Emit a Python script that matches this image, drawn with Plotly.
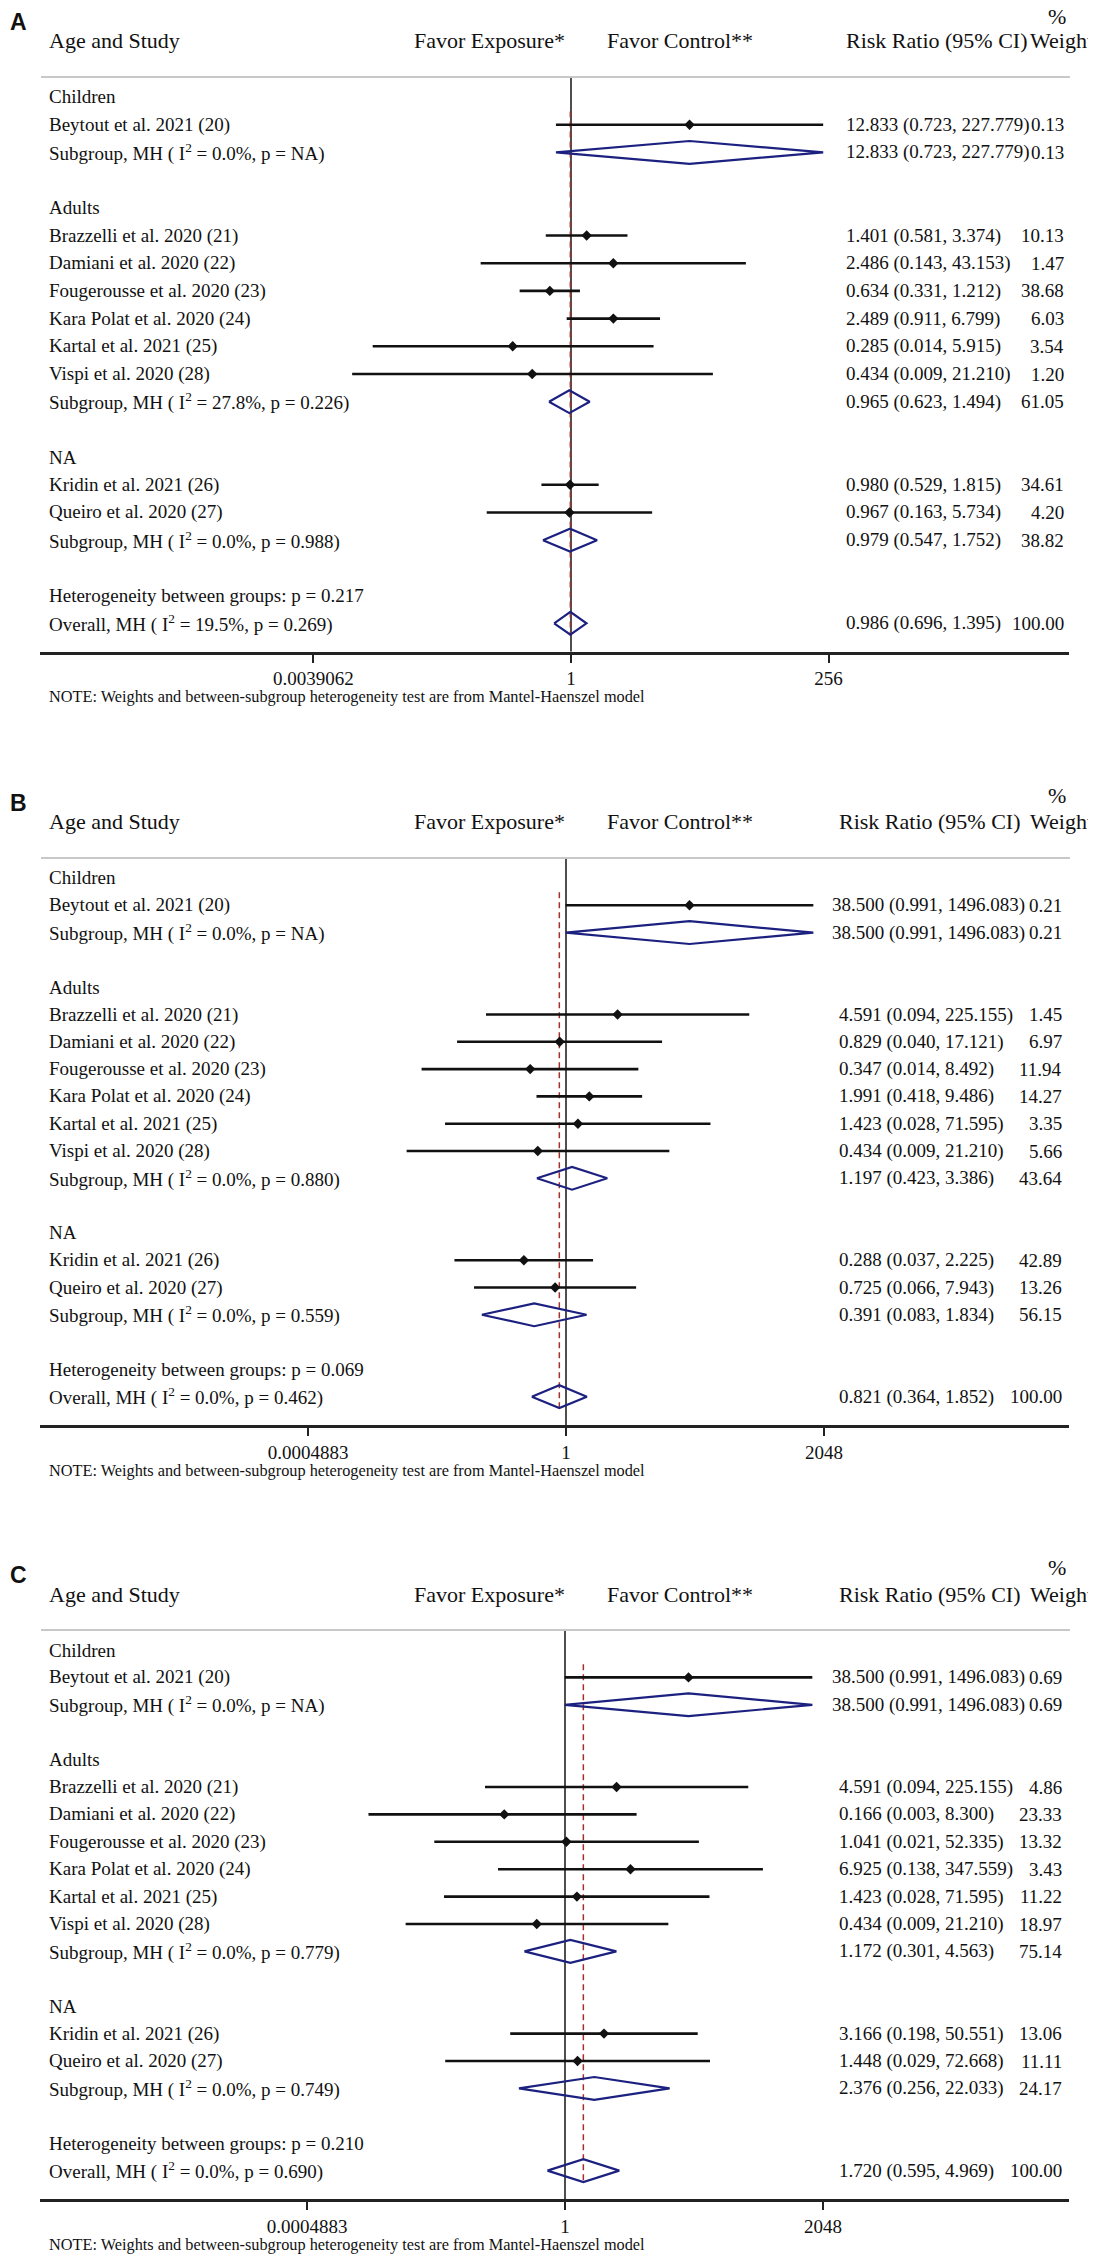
import math
import plotly.graph_objects as go

# the page adds an 8px body margin, so every reference pixel position is
# moved back by that margin and the figure is made 8px smaller
OFF = 8
W, H = 1096 - OFF, 2254 - OFF
SERIF = "Liberation Serif"

# ---- data -------------------------------------------------------------
children_studies = ["Beytout et al. 2021 (20)"]
adult_studies = [
    "Brazzelli et al. 2020 (21)",
    "Damiani et al. 2020 (22)",
    "Fougerousse et al. 2020 (23)",
    "Kara Polat et al. 2020 (24)",
    "Kartal et al. 2021 (25)",
    "Vispi et al. 2020 (28)",
]
na_studies = ["Kridin et al. 2021 (26)", "Queiro et al. 2020 (27)"]

# order: Beytout, subgroup children, 6 adult studies, subgroup adults,
#        Kridin, Queiro, subgroup NA, overall
a_rr = [12.833, 12.833, 1.401, 2.486, 0.634, 2.489, 0.285, 0.434, 0.965, 0.980, 0.967, 0.979, 0.986]
a_lo = [0.723, 0.723, 0.581, 0.143, 0.331, 0.911, 0.014, 0.009, 0.623, 0.529, 0.163, 0.547, 0.696]
a_hi = [227.779, 227.779, 3.374, 43.153, 1.212, 6.799, 5.915, 21.210, 1.494, 1.815, 5.734, 1.752, 1.395]
a_wt = [0.13, 0.13, 10.13, 1.47, 38.68, 6.03, 3.54, 1.20, 61.05, 34.61, 4.20, 38.82, 100.00]
a_i2 = ["0.0%", "27.8%", "0.0%", "19.5%"]
a_p = ["NA", "0.226", "0.988", "0.269"]
a_het = "0.217"
a_tickvals = [0.0039062, 1, 256]
a_ticktext = ["0.0039062", "1", "256"]

b_rr = [38.500, 38.500, 4.591, 0.829, 0.347, 1.991, 1.423, 0.434, 1.197, 0.288, 0.725, 0.391, 0.821]
b_lo = [0.991, 0.991, 0.094, 0.040, 0.014, 0.418, 0.028, 0.009, 0.423, 0.037, 0.066, 0.083, 0.364]
b_hi = [1496.083, 1496.083, 225.155, 17.121, 8.492, 9.486, 71.595, 21.210, 3.386, 2.225, 7.943, 1.834, 1.852]
b_wt = [0.21, 0.21, 1.45, 6.97, 11.94, 14.27, 3.35, 5.66, 43.64, 42.89, 13.26, 56.15, 100.00]
b_i2 = ["0.0%", "0.0%", "0.0%", "0.0%"]
b_p = ["NA", "0.880", "0.559", "0.462"]
b_het = "0.069"
b_tickvals = [0.0004883, 1, 2048]
b_ticktext = ["0.0004883", "1", "2048"]

c_rr = [38.500, 38.500, 4.591, 0.166, 1.041, 6.925, 1.423, 0.434, 1.172, 3.166, 1.448, 2.376, 1.720]
c_lo = [0.991, 0.991, 0.094, 0.003, 0.021, 0.138, 0.028, 0.009, 0.301, 0.198, 0.029, 0.256, 0.595]
c_hi = [1496.083, 1496.083, 225.155, 8.300, 52.335, 347.559, 71.595, 21.210, 4.563, 50.551, 72.668, 22.033, 4.969]
c_wt = [0.69, 0.69, 4.86, 23.33, 13.32, 3.43, 11.22, 18.97, 75.14, 13.06, 11.11, 24.17, 100.00]
c_i2 = ["0.0%", "0.0%", "0.0%", "0.0%"]
c_p = ["NA", "0.779", "0.749", "0.690"]
c_het = "0.210"
c_tickvals = [0.0004883, 1, 2048]
c_ticktext = ["0.0004883", "1", "2048"]

# ---- layout of each panel (page pixels) ---------------------------------
panels = [
    dict(tag="A", rr=a_rr, lo=a_lo, hi=a_hi, wt=a_wt, i2=a_i2, p=a_p, het=a_het,
         tv=a_tickvals, tt=a_ticktext, y0=97, sp=27.7, one=571, k=32.2, rr_x=844, wt_x=1066),
    dict(tag="B", rr=b_rr, lo=b_lo, hi=b_hi, wt=b_wt, i2=b_i2, p=b_p, het=b_het,
         tv=b_tickvals, tt=b_ticktext, y0=878, sp=27.3, one=566, k=23.45, rr_x=837, wt_x=1064),
    dict(tag="C", rr=c_rr, lo=c_lo, hi=c_hi, wt=c_wt, i2=c_i2, p=c_p, het=c_het,
         tv=c_tickvals, tt=c_ticktext, y0=1650, sp=27.4, one=565, k=23.45, rr_x=837, wt_x=1064),
]

AX_L, AX_R = 40, 1069
NAVY = "#1c2180"
DARKRED = "#a3302c"


def px_x(px):
    return (px - OFF) / W


def px_y(px):
    return 1 - (px - OFF) / H


fig = go.Figure()
annotations = []
shapes = []


def note(x, y, text, size=19, anchor="left", family=SERIF, box_h=None):
    ann = dict(
        x=px_x(x), y=px_y(y), xref="paper", yref="paper", text=text,
        showarrow=False, xanchor=anchor, yanchor="middle",
        font=dict(family=family, size=size, color="#111"),
    )
    if box_h:
        ann["height"] = box_h
    annotations.append(ann)


for n, pnl in enumerate(panels):
    sfx = "" if n == 0 else str(n + 1)
    xa, ya = "x" + sfx, "y" + sfx
    y0, sp = pnl["y0"], pnl["sp"]
    axis_px = y0 + 19 * sp + 28.5
    top_px = max(y0 - 95, OFF)

    # rows: 0 Children, 1 study, 2 subgroup, 4 Adults, 5-10 studies, 11 subgroup,
    #       13 NA, 14-15 studies, 16 subgroup, 18 heterogeneity, 19 overall
    stat_rows = [1, 2, 5, 6, 7, 8, 9, 10, 11, 14, 15, 16, 19]
    pooled = {2, 11, 16, 19}
    subgroup_rows = [2, 11, 16, 19]

    labels = {0: "Children", 4: "Adults", 13: "NA",
              18: "Heterogeneity between groups: p = " + pnl["het"]}
    labels[1] = children_studies[0]
    for j, s in enumerate(adult_studies):
        labels[5 + j] = s
    for j, s in enumerate(na_studies):
        labels[14 + j] = s
    for j, r in enumerate(subgroup_rows):
        head = "Overall, MH" if r == 19 else "Subgroup, MH"
        labels[r] = f"{head} ( I<sup>2</sup> = {pnl['i2'][j]}, p = {pnl['p'][j]})"

    for r, t in labels.items():
        note(47, y0 + r * sp, t)

    # CI lines and point estimates for single studies, diamonds for pooled rows
    cx, cy, mx, my = [], [], [], []
    dx, dy = [], []
    h = 11.4 / sp
    for j, r in enumerate(stat_rows):
        est, lo, hi = pnl["rr"][j], pnl["lo"][j], pnl["hi"][j]
        if r in pooled:
            dx += [lo, est, hi, est, lo, None]
            dy += [r, r - h, r, r + h, r, None]
        else:
            cx += [lo, hi, None]
            cy += [r, r, None]
            mx.append(est)
            my.append(r)
        ci_txt = f"{est:.3f} ({lo:.3f}, {hi:.3f})"
        # the widest strings start a little further left
        note(pnl["rr_x"] - (7 if len(ci_txt) > 23 else 0), y0 + r * sp, ci_txt)
        note(pnl["wt_x"], y0 + r * sp, f"{pnl['wt'][j]:.2f}", anchor="right")

    bottom_row = (axis_px - y0) / sp
    head_row = -20 / sp
    overall = pnl["rr"][-1]

    fig.add_trace(go.Scatter(x=[1, 1], y=[head_row, bottom_row], mode="lines",
                             line=dict(color="#222", width=1.6), xaxis=xa, yaxis=ya))
    fig.add_trace(go.Scatter(x=[overall, overall], y=[0.52, 19.45], mode="lines",
                             line=dict(color=DARKRED, width=1.5, dash="6px,4px"),
                             xaxis=xa, yaxis=ya))
    fig.add_trace(go.Scatter(x=cx, y=cy, mode="lines", line=dict(color="#111", width=2.6),
                             xaxis=xa, yaxis=ya))
    fig.add_trace(go.Scatter(x=mx, y=my, mode="markers",
                             marker=dict(symbol="diamond", size=8, color="#111"),
                             xaxis=xa, yaxis=ya))
    fig.add_trace(go.Scatter(x=dx, y=dy, mode="lines", line=dict(color=NAVY, width=2.2),
                             xaxis=xa, yaxis=ya))

    # header and footnote
    note(OFF, y0 - 75, "<b>" + pnl["tag"] + "</b>", size=23, family="Liberation Sans")
    note(47, y0 - 56, "Age and Study", size=22)
    note(412, y0 - 56, "Favor Exposure*", size=22)
    note(605, y0 - 56, "Favor Control**", size=22)
    note(pnl["rr_x"], y0 - 56, "Risk Ratio (95% CI)", size=22)
    note(1095, y0 - 56, "Weight", size=22, anchor="right")
    note(1057, max(y0 - 83, OFF + 8), "%", size=22, anchor="center", box_h=16)
    note(47, axis_px + 45, "NOTE: Weights and between-subgroup heterogeneity test are from "
         "Mantel-Haenszel model", size=16.3)
    shapes.append(dict(type="line", xref="paper", yref="paper", x0=px_x(41), x1=px_x(1070),
                       y0=px_y(y0 - 20), y1=px_y(y0 - 20),
                       line=dict(color="#c8c8c8", width=2)))

    l2 = math.log10(2)
    rng = [(AX_L - pnl["one"]) / pnl["k"] * l2, (AX_R - pnl["one"]) / pnl["k"] * l2]
    fig.update_layout({
        "xaxis" + sfx: dict(type="log", range=rng, domain=[px_x(AX_L), px_x(AX_R)], anchor=ya,
                            showline=True, linecolor="#222", linewidth=2.5,
                            ticks="outside", ticklen=8, tickwidth=1.5, tickcolor="#222",
                            tickmode="array", tickvals=pnl["tv"], ticktext=pnl["tt"],
                            tickfont=dict(family=SERIF, size=19, color="#111"),
                            showgrid=False, zeroline=False),
        "yaxis" + sfx: dict(domain=[px_y(axis_px), px_y(top_px)],
                            range=[bottom_row, (top_px - y0) / sp], visible=False,
                            showgrid=False, zeroline=False),
    })

fig.update_layout(
    width=W, height=H, margin=dict(l=0, r=0, t=0, b=0),
    paper_bgcolor="white", plot_bgcolor="white", showlegend=False,
    annotations=annotations, shapes=shapes,
)

fig.write_html("out.html")
